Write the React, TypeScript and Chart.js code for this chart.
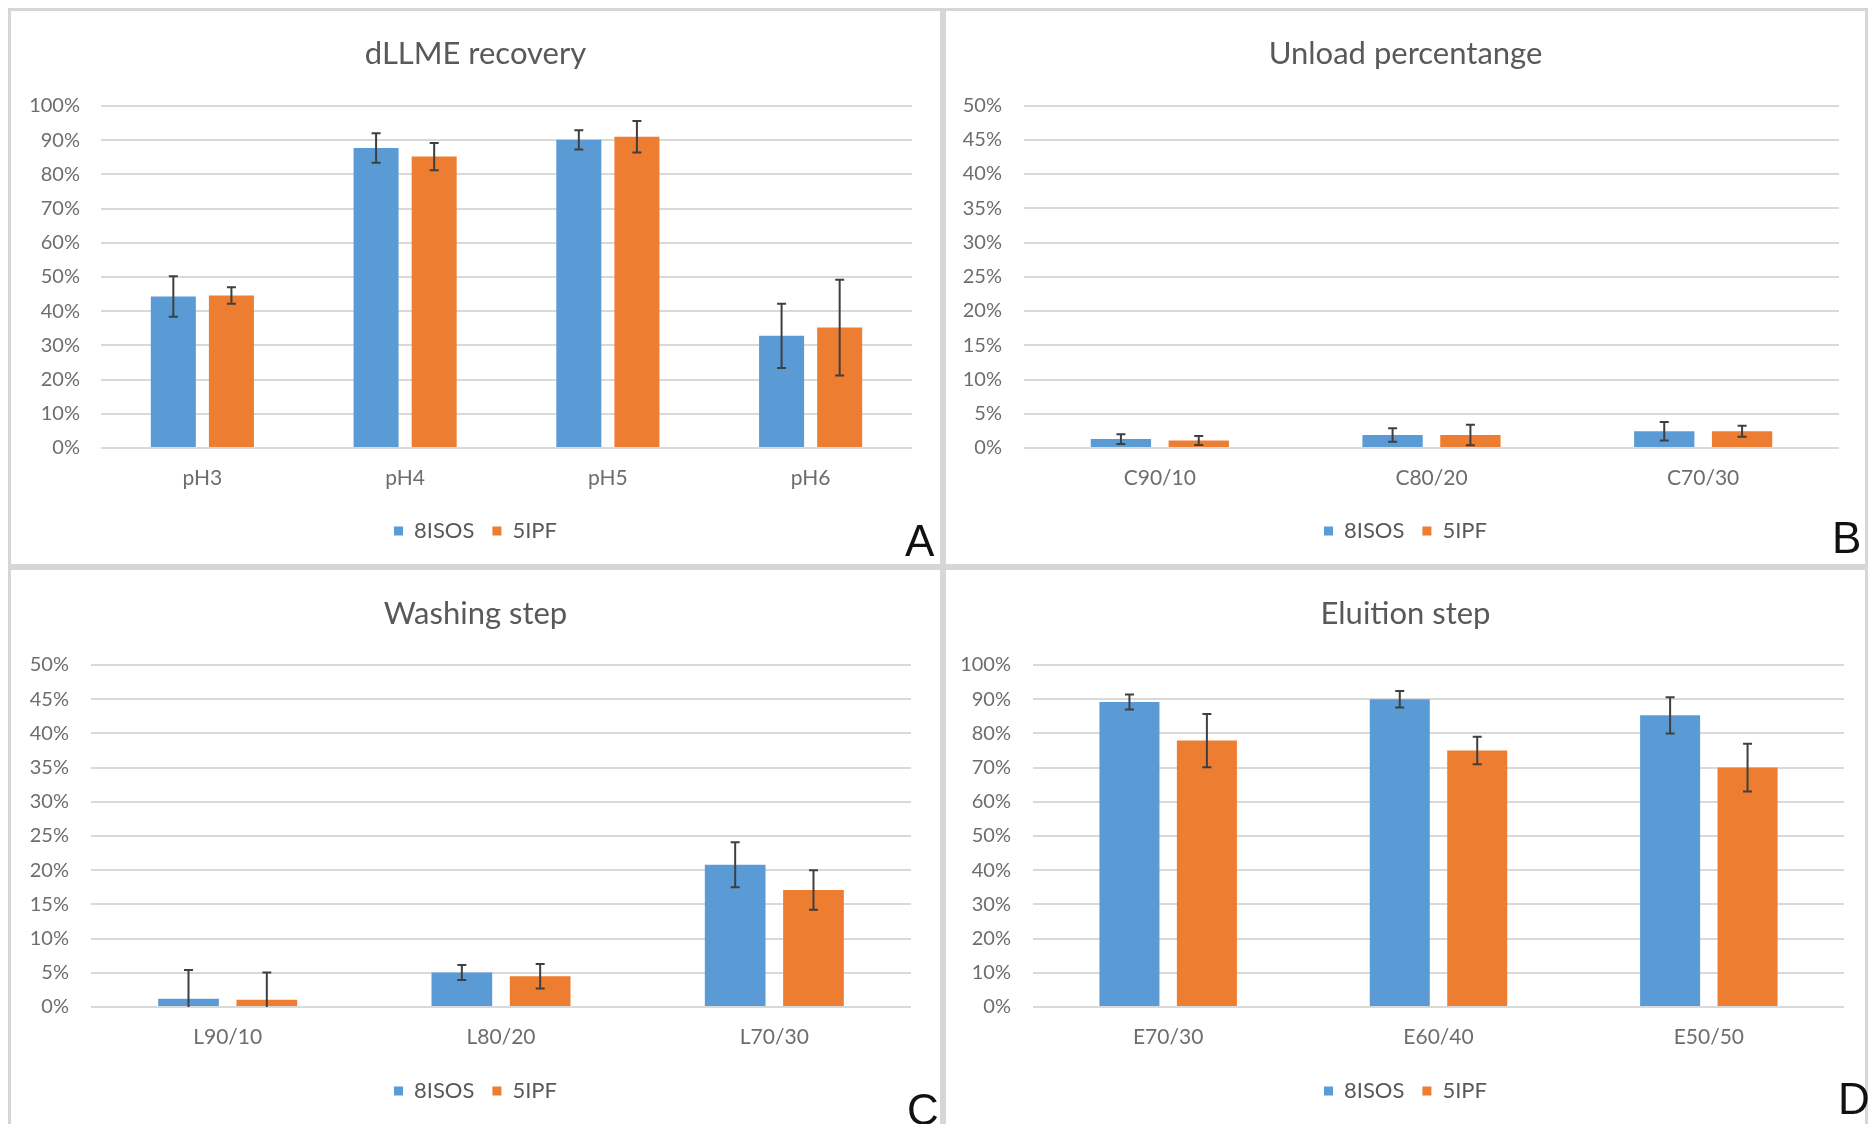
import React, { useEffect, useRef } from "react";
import { Chart, registerables } from "chart.js";

Chart.register(...registerables);

// ---------- data ----------
const seriesNames = ["8ISOS", "5IPF"];

const dllmeCategories = ["pH3", "pH4", "pH5", "pH6"];
const dllme8ISOS = [44.3, 87.7, 90.1, 32.8];
const dllme8ISOSErr = [5.9, 4.3, 2.8, 9.4];
const dllme5IPF = [44.6, 85.2, 91.0, 35.2];
const dllme5IPFErr = [2.4, 4.0, 4.6, 14.0];

const unloadCategories = ["C90/10", "C80/20", "C70/30"];
const unload8ISOS = [1.3, 1.9, 2.45];
const unload8ISOSErr = [0.7, 1.0, 1.35];
const unload5IPF = [1.1, 1.9, 2.45];
const unload5IPFErr = [0.65, 1.5, 0.8];

const washCategories = ["L90/10", "L80/20", "L70/30"];
const wash8ISOS = [1.2, 5.05, 20.8];
const wash8ISOSErr = [4.2, 1.1, 3.3];
const wash5IPF = [1.05, 4.5, 17.1];
const wash5IPFErr = [4.0, 1.8, 2.9];

const elutionCategories = ["E70/30", "E60/40", "E50/50"];
const elution8ISOS = [89.2, 90.0, 85.3];
const elution8ISOSErr = [2.2, 2.4, 5.3];
const elution5IPF = [77.9, 75.0, 70.0];
const elution5IPFErr = [7.8, 4.0, 7.0];

const ticks100 = [0, 10, 20, 30, 40, 50, 60, 70, 80, 90, 100];
const ticks50 = [0, 5, 10, 15, 20, 25, 30, 35, 40, 45, 50];

// ---------- styles ----------
const BLUE = "#5b9bd5";
const ORANGE = "#ed7d31";
const GRID = "#d9d9d9";
const TEXT = "#595959";
const TICK_TEXT = "#6d6d6d";
const BORDER = 3;
const FONT = "Lato";
const TITLE_SIZE = 31;
const TICK_SIZE = 20;
const CAT_SIZE = 21;
const LEGEND_SIZE = 22;
const LEGEND_PAD = 18;

type PanelLayout = {
  box: { x: number; y: number; w: number; h: number };
  plot: { l: number; t: number; r: number; b: number };
  titleY: number;
  catY: number;
  legendY: number;
  tickRight: number;
  letterX: number;
  letterY: number;
};

type PanelDef = {
  title: string;
  letter: string;
  categories: string[];
  a: number[];
  aErr: number[];
  b: number[];
  bErr: number[];
  ticks: number[];
  layout: PanelLayout;
};

const panels: PanelDef[] = [
  {
    title: "dLLME recovery",
    letter: "A",
    categories: dllmeCategories,
    a: dllme8ISOS,
    aErr: dllme8ISOSErr,
    b: dllme5IPF,
    bErr: dllme5IPFErr,
    ticks: ticks100,
    layout: {
      box: { x: 8, y: 8, w: 935, h: 559 },
      plot: { l: 101, t: 106, r: 912, b: 448 },
      titleY: 54, catY: 478, legendY: 531, tickRight: 80,
      letterX: 905, letterY: 519,
    },
  },
  {
    title: "Unload percentange",
    letter: "B",
    categories: unloadCategories,
    a: unload8ISOS,
    aErr: unload8ISOSErr,
    b: unload5IPF,
    bErr: unload5IPFErr,
    ticks: ticks50,
    layout: {
      box: { x: 943, y: 8, w: 925, h: 559 },
      plot: { l: 1024, t: 105.5, r: 1839, b: 448 },
      titleY: 54, catY: 478, legendY: 531, tickRight: 1002,
      letterX: 1832, letterY: 516,
    },
  },
  {
    title: "Washing step",
    letter: "C",
    categories: washCategories,
    a: wash8ISOS,
    aErr: wash8ISOSErr,
    b: wash5IPF,
    bErr: wash5IPFErr,
    ticks: ticks50,
    layout: {
      box: { x: 8, y: 567, w: 935, h: 562 },
      plot: { l: 91, t: 665, r: 911, b: 1007 },
      titleY: 614, catY: 1037, legendY: 1091, tickRight: 69,
      letterX: 907, letterY: 1088,
    },
  },
  {
    title: "Eluition step",
    letter: "D",
    categories: elutionCategories,
    a: elution8ISOS,
    aErr: elution8ISOSErr,
    b: elution5IPF,
    bErr: elution5IPFErr,
    ticks: ticks100,
    layout: {
      box: { x: 943, y: 567, w: 925, h: 562 },
      plot: { l: 1033, t: 665, r: 1844, b: 1007 },
      titleY: 614, catY: 1037, legendY: 1091, tickRight: 1011,
      letterX: 1838, letterY: 1077,
    },
  },
];

const errorBarPlugin = {
  id: "errorBars",
  afterDatasetsDraw(chart: any) {
    const ctx = chart.ctx;
    const yScale = chart.scales.y;
    chart.data.datasets.forEach((ds: any, i: number) => {
      const errs: number[] = ds.errors;
      if (!errs) return;
      const meta = chart.getDatasetMeta(i);
      meta.data.forEach((bar: any, j: number) => {
        const v = ds.data[j];
        const e = errs[j];
        const hiVal = Math.min(v + e, yScale.max);
        const loVal = Math.max(v - e, yScale.min);
        const top = yScale.getPixelForValue(hiVal);
        const bottom = yScale.getPixelForValue(loVal);
        const x = bar.x;
        const cap = 4.5;
        ctx.save();
        ctx.strokeStyle = "#3f3f3f";
        ctx.lineWidth = 2;
        ctx.beginPath();
        ctx.moveTo(x, top);
        ctx.lineTo(x, bottom);
        ctx.moveTo(x - cap, top);
        ctx.lineTo(x + cap, top);
        if (v - e >= yScale.min) {
          ctx.moveTo(x - cap, bottom);
          ctx.lineTo(x + cap, bottom);
        }
        ctx.stroke();
        ctx.restore();
      });
    });
  },
};

function Panel({ def }: { def: PanelDef }) {
  const ref = useRef<HTMLCanvasElement | null>(null);
  const L = def.layout;
  const cx = L.box.x + BORDER;
  const cy = L.box.y + BORDER;
  const cw = L.box.w - 2 * BORDER;
  const ch = L.box.h - 2 * BORDER;

  useEffect(() => {
    if (!ref.current) return;
    const areaL = L.plot.l - cx;
    const areaT = L.plot.t - cy;
    const areaR = L.plot.r - cx;
    const areaB = L.plot.b - cy;
    const rightW = cw - areaR;
    const titleLH = TITLE_SIZE * 1.2;
    const titlePadTop = L.titleY - cy - titleLH / 2;
    const titlePadBottom = areaT - titlePadTop - titleLH;
    const legendTop = L.legendY - cy - LEGEND_PAD - LEGEND_SIZE / 2;
    const legendH = LEGEND_SIZE + LEGEND_PAD + 10;
    const padB = ch - legendTop - legendH;
    const xAxisH = legendTop - areaB;
    const xTickPad = L.catY - L.plot.b - (CAT_SIZE * 1.2) / 2;
    const yTickPad = L.plot.l - L.tickRight;
    const ticks = def.ticks;

    const chart = new Chart(ref.current, {
      type: "bar",
      data: {
        labels: def.categories,
        datasets: [
          {
            label: seriesNames[0],
            data: def.a,
            backgroundColor: BLUE,
            borderWidth: 0,
            errors: def.aErr,
          } as any,
          {
            label: seriesNames[1],
            data: def.b,
            backgroundColor: ORANGE,
            borderWidth: 0,
            errors: def.bErr,
          } as any,
        ],
      },
      options: {
        responsive: false,
        animation: false,
        devicePixelRatio: 1,
        datasets: { bar: { categoryPercentage: 0.573, barPercentage: 0.775 } },
        layout: { padding: { left: 0, right: 0, top: 0, bottom: padB } },
        plugins: {
          tooltip: { enabled: false },
          title: {
            display: true,
            text: def.title,
            color: TEXT,
            font: { family: FONT, size: TITLE_SIZE, weight: "normal", lineHeight: 1.2 },
            padding: { top: titlePadTop, bottom: titlePadBottom },
          },
          legend: {
            display: true,
            position: "bottom",
            labels: {
              color: TEXT,
              font: { family: FONT, size: LEGEND_SIZE },
              boxWidth: 9,
              boxHeight: 9,
              padding: LEGEND_PAD,
            },
          },
        },
        scales: {
          x: {
            grid: { display: false, drawTicks: false, tickLength: 0 },
            border: { display: false },
            ticks: {
              color: TICK_TEXT,
              font: { family: FONT, size: CAT_SIZE },
              padding: xTickPad,
              maxRotation: 0,
            },
            afterFit: (s: any) => {
              s.height = xAxisH;
            },
          },
          y: {
            min: ticks[0],
            max: ticks[ticks.length - 1],
            grid: { color: GRID, lineWidth: 2, drawTicks: false, tickLength: 0 },
            border: { display: false },
            ticks: {
              color: TICK_TEXT,
              font: { family: FONT, size: TICK_SIZE },
              padding: yTickPad,
              callback: (v: any) => `${v}%`,
            },
            afterBuildTicks: (s: any) => {
              s.ticks = ticks.map((v) => ({ value: v }));
            },
            afterFit: (s: any) => {
              s.width = areaL;
            },
          },
          yRight: {
            type: "linear",
            position: "right",
            display: true,
            grid: { display: false, drawTicks: false },
            border: { display: false },
            ticks: { display: false },
            afterFit: (s: any) => {
              s.width = rightW;
            },
          },
        },
      } as any,
      plugins: [errorBarPlugin],
    });
    return () => chart.destroy();
  }, []);

  return (
    <div
      style={{
        position: "absolute",
        left: L.box.x,
        top: L.box.y,
        width: L.box.w,
        height: L.box.h,
        border: `${BORDER}px solid #d6d6d6`,
        boxSizing: "border-box",
        background: "#ffffff",
      }}
    >
      <canvas
        ref={ref}
        width={cw}
        height={ch}
        style={{ position: "absolute", left: 0, top: 0, width: cw, height: ch }}
      />
      <div
        style={{
          position: "absolute",
          left: L.letterX - cx,
          top: L.letterY - cy,
          fontFamily: "Liberation Sans",
          fontSize: 44,
          lineHeight: 1,
          color: "#111111",
        }}
      >
        {def.letter}
      </div>
    </div>
  );
}

export default function App() {
  return (
    <div
      style={{
        position: "absolute",
        left: 0,
        top: 0,
        width: 1868,
        height: 1124,
        overflow: "hidden",
        background: "#ffffff",
      }}
    >
      {panels.map((p) => (
        <Panel key={p.letter} def={p} />
      ))}
    </div>
  );
}
